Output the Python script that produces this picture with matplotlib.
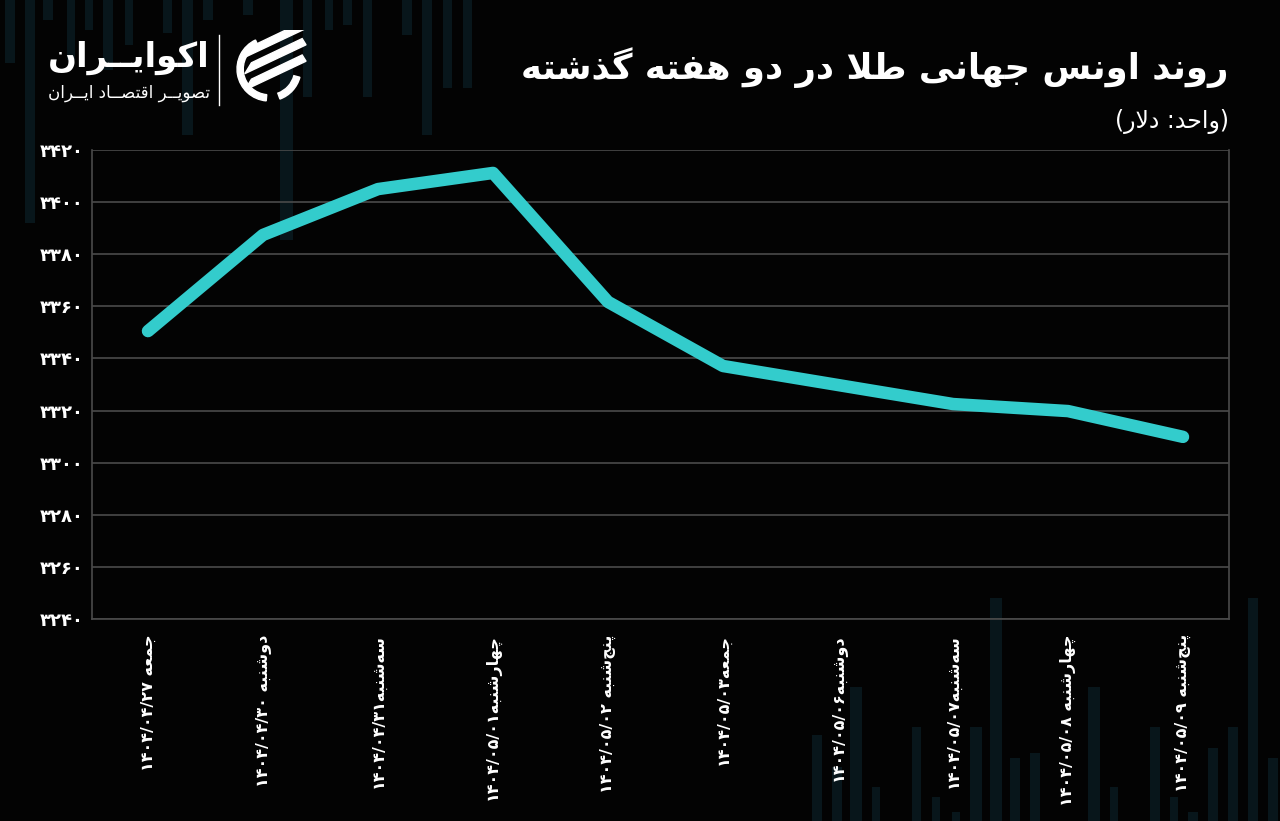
import matplotlib
matplotlib.use("Agg")
import matplotlib.pyplot as plt
from matplotlib.patches import Rectangle, Wedge, Polygon
import numpy as np

# ---------------- data ----------------
day_labels = ["جمعه ۱۴۰۴/۰۴/۲۷", "دوشنبه ۱۴۰۴/۰۴/۳۰", "سه‌شنبه۱۴۰۴/۰۴/۳۱",
              "چهارشنبه۱۴۰۴/۰۵/۰۱", "پنج‌شنبه ۱۴۰۴/۰۵/۰۲", "جمعه۱۴۰۴/۰۵/۰۳",
              "دوشنبه۱۴۰۴/۰۵/۰۶", "سه‌شنبه۱۴۰۴/۰۵/۰۷", "چهارشنبه ۱۴۰۴/۰۵/۰۸",
              "پنج‌شنبه ۱۴۰۴/۰۵/۰۹"]
gold_ounce = [3350.5, 3387.4, 3405.0, 3411.2, 3361.7, 3337.1, 3329.8, 3322.5, 3319.8, 3309.9]
y_ticks = [3240, 3260, 3280, 3300, 3320, 3340, 3360, 3380, 3400, 3420]
title_text = "روند اونس جهانی طلا در دو هفته گذشته"
subtitle_text = "(واحد: دلار)"
logo_text = "اکوایــران"
logo_sub = "تصویــر اقتصــاد ایــران"

# ---------------- minimal Arabic/Persian shaping + RTL reorder ----------------
FORMS = {
    '\u0627': ('\uFE8D', '\uFE8E', None, None),
    '\u0622': ('\uFE81', '\uFE82', None, None),
    '\u0628': ('\uFE8F', '\uFE90', '\uFE91', '\uFE92'),
    '\u067E': ('\uFB56', '\uFB57', '\uFB58', '\uFB59'),
    '\u062A': ('\uFE95', '\uFE96', '\uFE97', '\uFE98'),
    '\u062B': ('\uFE99', '\uFE9A', '\uFE9B', '\uFE9C'),
    '\u062C': ('\uFE9D', '\uFE9E', '\uFE9F', '\uFEA0'),
    '\u0686': ('\uFB7A', '\uFB7B', '\uFB7C', '\uFB7D'),
    '\u062D': ('\uFEA1', '\uFEA2', '\uFEA3', '\uFEA4'),
    '\u062E': ('\uFEA5', '\uFEA6', '\uFEA7', '\uFEA8'),
    '\u062F': ('\uFEA9', '\uFEAA', None, None),
    '\u0630': ('\uFEAB', '\uFEAC', None, None),
    '\u0631': ('\uFEAD', '\uFEAE', None, None),
    '\u0632': ('\uFEAF', '\uFEB0', None, None),
    '\u0698': ('\uFB8A', '\uFB8B', None, None),
    '\u0633': ('\uFEB1', '\uFEB2', '\uFEB3', '\uFEB4'),
    '\u0634': ('\uFEB5', '\uFEB6', '\uFEB7', '\uFEB8'),
    '\u0635': ('\uFEB9', '\uFEBA', '\uFEBB', '\uFEBC'),
    '\u0636': ('\uFEBD', '\uFEBE', '\uFEBF', '\uFEC0'),
    '\u0637': ('\uFEC1', '\uFEC2', '\uFEC3', '\uFEC4'),
    '\u0638': ('\uFEC5', '\uFEC6', '\uFEC7', '\uFEC8'),
    '\u0639': ('\uFEC9', '\uFECA', '\uFECB', '\uFECC'),
    '\u063A': ('\uFECD', '\uFECE', '\uFECF', '\uFED0'),
    '\u0641': ('\uFED1', '\uFED2', '\uFED3', '\uFED4'),
    '\u0642': ('\uFED5', '\uFED6', '\uFED7', '\uFED8'),
    '\u06A9': ('\uFB8E', '\uFB8F', '\uFB90', '\uFB91'),
    '\u06AF': ('\uFB92', '\uFB93', '\uFB94', '\uFB95'),
    '\u0644': ('\uFEDD', '\uFEDE', '\uFEDF', '\uFEE0'),
    '\u0645': ('\uFEE1', '\uFEE2', '\uFEE3', '\uFEE4'),
    '\u0646': ('\uFEE5', '\uFEE6', '\uFEE7', '\uFEE8'),
    '\u0647': ('\uFEE9', '\uFEEA', '\uFEEB', '\uFEEC'),
    '\u0648': ('\uFEED', '\uFEEE', None, None),
    '\u06CC': ('\uFBFC', '\uFBFD', '\uFBFE', '\uFBFF'),
    '\u0640': ('\u0640', '\u0640', '\u0640', '\u0640'),
}


def _dual(c):
    return c in FORMS and FORMS[c][2] is not None


def _joins(c):
    return c in FORMS


def shape(s):
    chars = list(s)
    out = []
    i = 0
    n = len(chars)
    while i < n:
        c = chars[i]
        prev = chars[i - 1] if i > 0 else None
        jp = prev is not None and _dual(prev) and _joins(c)
        if c == '\u0644' and i + 1 < n and chars[i + 1] in ('\u0627', '\u0622'):
            if chars[i + 1] == '\u0627':
                out.append('\uFEFC' if jp else '\uFEFB')
            else:
                out.append('\uFEF6' if jp else '\uFEF5')
            i += 2
            continue
        if c not in FORMS:
            out.append(c)
            i += 1
            continue
        nxt = chars[i + 1] if i + 1 < n else None
        jn = _dual(c) and nxt is not None and _joins(nxt)
        iso, fin, ini, med = FORMS[c]
        if jp and jn:
            out.append(med)
        elif jp:
            out.append(fin)
        elif jn:
            out.append(ini)
        else:
            out.append(iso)
        i += 1
    return ''.join(out).replace('\u200c', '')


def _isdigit(c):
    return ('0' <= c <= '9') or ('\u06F0' <= c <= '\u06F9') or ('\u0660' <= c <= '\u0669')


MIRROR = {'(': ')', ')': '('}


def rtl(s):
    t = shape(s)
    units = []
    i = 0
    while i < len(t):
        c = t[i]
        if _isdigit(c):
            j = i + 1
            while j < len(t) and (_isdigit(t[j]) or (t[j] in '/.,' and j + 1 < len(t) and _isdigit(t[j + 1]))):
                j += 1
            units.append(t[i:j])
            i = j
        else:
            units.append(MIRROR.get(c, c))
            i += 1
    return ''.join(reversed(units))


def fa_digits(v):
    return ''.join(chr(0x06F0 + int(ch)) if ch.isdigit() else ch for ch in str(v))


# ---------------- figure ----------------
W, H = 1280, 821
fig = plt.figure(figsize=(W / 100, H / 100), dpi=100)
bg = '#030303'
fig.patch.set_facecolor(bg)
plt.rcParams['font.family'] = ['DejaVu Sans']


def fx(x):
    return x / W


def fy(y):
    return 1 - y / H


# decorative faint background bars (top and bottom)
deco_col = '#08161b'
top_bars = [(5, 10, 63), (25, 10, 223), (43, 10, 20), (67, 8, 60), (85, 8, 30), (103, 10, 70),
            (125, 8, 45), (163, 9, 33), (182, 11, 135), (203, 10, 20), (243, 10, 15),
            (280, 13, 240), (303, 9, 97), (325, 8, 30), (343, 9, 25), (363, 9, 97),
            (402, 10, 35), (422, 10, 135), (443, 9, 88), (463, 9, 88)]
for x, w, h in top_bars:
    fig.patches.append(Rectangle((fx(x), fy(h)), w / W, h / H, transform=fig.transFigure,
                                 facecolor=deco_col, edgecolor='none', zorder=-1))
bot_bars = [(812, 10, 735), (832, 10, 767), (850, 12, 687), (872, 8, 787), (912, 9, 727),
            (932, 8, 797), (952, 8, 812), (970, 12, 727), (990, 12, 598), (1010, 10, 758),
            (1030, 10, 753), (1088, 12, 687), (1110, 8, 787), (1150, 10, 727), (1170, 8, 797),
            (1188, 10, 812), (1208, 10, 748), (1228, 10, 727), (1248, 10, 598), (1268, 10, 758)]
for x, w, y0 in bot_bars:
    fig.patches.append(Rectangle((fx(x), 0), w / W, (H - y0) / H, transform=fig.transFigure,
                                 facecolor=deco_col, edgecolor='none', zorder=-1))

# main axes
left, right, top, bottom = 92, 1229, 150, 619
ax = fig.add_axes([fx(left), fy(bottom), (right - left) / W, (bottom - top) / H])
ax.set_facecolor('none')
x = np.arange(len(gold_ounce))
ax.plot(x, gold_ounce, color='#33cccc', lw=9, solid_capstyle='round',
        solid_joinstyle='round', zorder=3)
ax.set_xlim(-0.487, 9.4)
ax.set_ylim(min(y_ticks), max(y_ticks))
ax.set_yticks(y_ticks)
ax.set_yticklabels([fa_digits(v) for v in y_ticks], fontsize=13, color='white',
                   fontweight='bold')
ax.set_xticks(x)
ax.set_xticklabels([rtl(s) for s in day_labels], rotation=90, fontsize=11.5,
                   color='white', fontweight='bold', va='top', ha='center')
ax.tick_params(axis='both', length=0)
ax.tick_params(axis='y', pad=6)
ax.tick_params(axis='x', pad=11)
ax.grid(axis='y', color='#4a4a4a', lw=1.2)
ax.set_axisbelow(True)
for side in ['left', 'right', 'bottom']:
    ax.spines[side].set_color('#4a4a4a')
    ax.spines[side].set_linewidth(1.2)
ax.spines['top'].set_visible(False)

# titles
fig.text(fx(1228), fy(68), rtl(title_text), ha='right', va='center', fontsize=25.5,
         fontweight='bold', color='white')
fig.text(fx(1229), fy(122), rtl(subtitle_text), ha='right', va='center', fontsize=17,
         color='white')

# logo
fig.text(fx(210), fy(58), rtl(logo_text), ha='right', va='center', fontsize=24.5,
         fontweight='bold', color='white')
fig.text(fx(210), fy(93), rtl(logo_sub), ha='right', va='center', fontsize=12,
         color='white')
fig.add_artist(plt.Line2D([fx(219), fx(219)], [fy(35), fy(105)], color='white', lw=1,
                          transform=fig.transFigure))
iax = fig.add_axes([fx(230), fy(108), 78 / W, 78 / H])
iax.set_xlim(-1, 1)
iax.set_ylim(-1, 1)
iax.axis('off')
iax.add_patch(Wedge((0, 0), 0.82, 115, 265, width=0.16, color='white'))
iax.add_patch(Wedge((0, 0), 0.82, 290, 345, width=0.16, color='white'))
for off in [0.42, 0.0, -0.42]:
    pts = [(-0.62, off - 0.12), (0.95, off + 0.62), (0.85, off + 0.78), (-0.45, off + 0.16)]
    iax.add_patch(Polygon(pts, closed=True, color='white'))

fig.savefig('out.png', dpi=100, facecolor=bg)
